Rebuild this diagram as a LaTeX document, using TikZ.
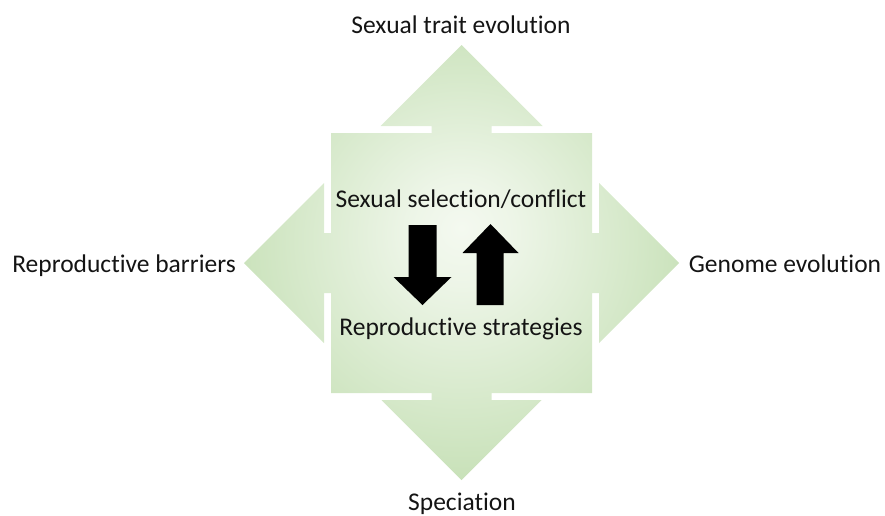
\documentclass[tikz,border=0pt]{standalone}
\usepackage{fontspec}
\setmainfont{Carlito}[Ligatures=NoCommon]
\definecolor{gin}{RGB}{244,249,240}
\definecolor{gout}{RGB}{198,224,182}
\definecolor{txt}{RGB}{20,20,20}
\pgfdeclareradialshading{glow}{\pgfpoint{0bp}{4bp}}{color(0bp)=(gin);color(6bp)=(gin!85!gout);color(28bp)=(gout);color(50bp)=(gout)}
\begin{document}
\begin{tikzpicture}[x=1pt,y=-1pt,
  lbl/.style={font=\fontsize{25.5}{30}\selectfont,text=txt,inner sep=0pt,anchor=base},
  blk/.style={fill=black}]
\useasboundingbox (0,0) rectangle (885,515);
% green shape: square, stems, triangles
\shade[shading=glow]
  (331,133) rectangle (592,393)
  (431.5,126) rectangle (491.5,133)
  (431.5,393) rectangle (491.5,400)
  (324,233) rectangle (331,293)
  (592,233) rectangle (599,293)
  (380.5,126) -- (542.5,126) -- (461.5,45) -- cycle
  (381.5,400) -- (541.5,400) -- (461.5,480) -- cycle
  (324,183) -- (324,343) -- (244,263) -- cycle
  (599,183) -- (599,343) -- (679,263) -- cycle;
% black block arrows
\fill[blk] (408.5,225) -- (436.5,225) -- (436.5,277) -- (451.5,277) -- (422.5,305)
  -- (393.5,277) -- (408.5,277) -- cycle;
\fill[blk] (476.5,305) -- (503.5,305) -- (503.5,253) -- (518.5,253) -- (490.5,224)
  -- (462.5,253) -- (476.5,253) -- cycle;
% labels
\node[lbl] (top) at (461,33) {Sexual trait evolution};
\node[lbl] (left) at (124,272) {Reproductive barriers};
\node[lbl] (right) at (785,272) {Genome evolution};
\node[lbl] (bottom) at (462,510) {Speciation};
\node[lbl] (sel) at (461,207) {Sexual selection/conflict};
\node[lbl] (rep) at (461,335) {Reproductive strategies};
\end{tikzpicture}
\end{document}
